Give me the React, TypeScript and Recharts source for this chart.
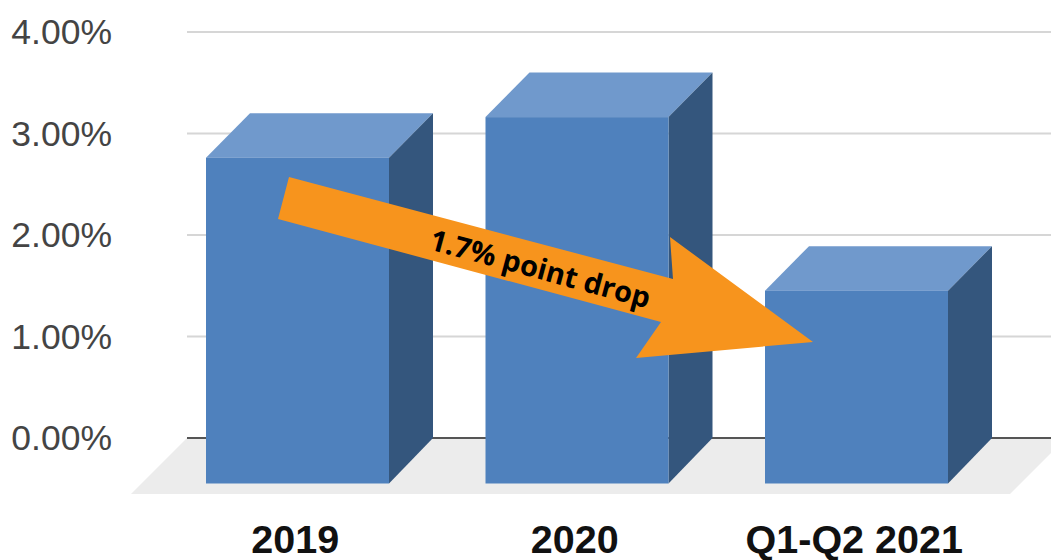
import React from "react";
import { Bar, BarChart, CartesianGrid, Customized, XAxis, YAxis, ZIndexLayer } from "recharts";

const categories = ["2019", "2020", "Q1-Q2 2021"];
const rates = [3.2, 3.6, 1.89];
const yTicks = [0, 1, 2, 3, 4];
const arrowLabel = "1.7% point drop";

const chartData = categories.map((name, i) => ({ name, rate: rates[i] }));

const DEPTH_X = 44;
const DEPTH_Y = 45;
const FRONT = "#4f81bd";
const TOP = "#7099cc";
const SIDE = "#34567d";

// the value scale sits on the back wall, the front face is pushed down-left from it
function Box3D(props: any) {
  const { x, y, width, height } = props;
  const fx = x - DEPTH_X;
  const fy = y + DEPTH_Y - 0.5;
  const bottom = y + height;
  const frontBottom = bottom + DEPTH_Y + 0.5;
  return (
    <g>
      <polygon points={`${fx},${fy} ${x},${y} ${x + width},${y} ${fx + width},${fy}`} fill={TOP} />
      <polygon
        points={`${fx + width},${fy} ${x + width},${y} ${x + width},${bottom} ${fx + width},${frontBottom}`}
        fill={SIDE}
      />
      <rect x={fx} y={fy} width={width} height={frontBottom - fy} fill={FRONT} />
    </g>
  );
}

function YTick(props: any) {
  return (
    <text
      x={112}
      y={props.y + 12}
      textAnchor="end"
      fontFamily="Liberation Sans"
      fontSize={35.5}
      fill="#444444"
    >
      {props.payload.value.toFixed(2)}%
    </text>
  );
}

function XTick(props: any) {
  return (
    <text
      x={props.x - DEPTH_X - 2.5}
      y={553}
      textAnchor="middle"
      fontFamily="Liberation Sans"
      fontWeight="bold"
      fontSize={39.5}
      fill="#111111"
    >
      {props.payload.value}
    </text>
  );
}

function Floor() {
  return <polygon points="131,494 187,438 1051,438 1051,453 1010,494" fill="#ececec" />;
}

function DropArrow() {
  return (
    <ZIndexLayer zIndex={3000}>
      <g>
        <polygon
          points="289,177 673,279 670,237 813,342 636,358 661,322 278,219"
          fill="#f7941d"
        />
        <text
          x={540}
          y={279}
          textAnchor="middle"
          transform="rotate(15.2 540 270)"
          fontFamily="Open Sans"
          fontWeight="bold"
          fontSize={29}
          fill="#000000"
        >
          {arrowLabel}
        </text>
      </g>
    </ZIndexLayer>
  );
}

export default function App() {
  return (
    <div style={{ position: "absolute", left: 0, top: 0, background: "#fff" }}>
      <BarChart
        width={1051}
        height={560}
        data={chartData}
        margin={{ top: 32, right: 0, bottom: 0, left: 0 }}
        barCategoryGap={0}
      >
        <Customized component={Floor} />
        <CartesianGrid horizontal vertical={false} stroke="#d6d6d6" strokeWidth={2} />
        <XAxis
          dataKey="name"
          height={122}
          padding={{ left: 15, right: 10.5 }}
          tick={XTick}
          tickLine={false}
          axisLine={{ stroke: "#555555", strokeWidth: 2 }}
          interval={0}
          zIndex={200}
        />
        <YAxis
          width={187}
          domain={[0, 4]}
          ticks={yTicks}
          tick={YTick}
          tickLine={false}
          axisLine={false}
          interval={0}
        />
        <Bar dataKey="rate" barSize={183} shape={Box3D} isAnimationActive={false} />
        <Customized component={DropArrow} />
      </BarChart>
    </div>
  );
}
